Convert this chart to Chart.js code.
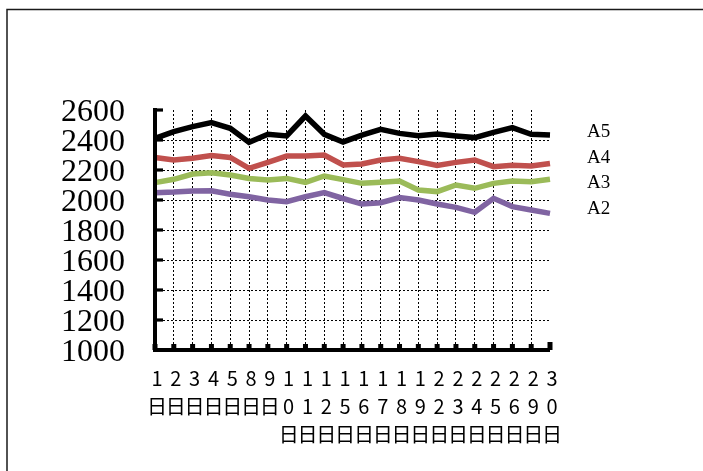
<!DOCTYPE html>
<html>
<head>
<meta charset="utf-8">
<script src="https://cdn.jsdelivr.net/npm/chart.js@4/dist/chart.umd.min.js"></script>
<style>
  html, body { margin: 0; padding: 0; background: #fff; }
  canvas { display: block; }
</style>
</head>
<body>
<canvas id="chart" width="703" height="471"></canvas>
<script>
// Trading days of the month
const days = ['1日','2日','3日','4日','5日','8日','9日','10日','11日','12日','15日','16日','17日','18日','19日','22日','23日','24日','25日','26日','29日','30日'];

// Series names
const seriesNames = ['A2', 'A3', 'A4', 'A5'];

// Daily values per series
const a2 = [2049,2053,2060,2062,2038,2022,2000,1989,2022,2049,2010,1973,1982,2016,2000,1973,1951,1918,2011,1956,1933,1911];
const a3 = [2116,2138,2173,2182,2167,2144,2133,2144,2118,2160,2136,2111,2118,2127,2067,2056,2100,2078,2111,2127,2122,2138];
const a4 = [2284,2267,2278,2296,2284,2211,2251,2293,2293,2300,2233,2240,2267,2278,2256,2231,2251,2267,2222,2231,2227,2244];
const a5 = [2411,2456,2489,2516,2478,2385,2438,2427,2560,2438,2387,2433,2471,2444,2429,2440,2427,2416,2451,2482,2438,2433];

// Value axis range and ticks
const yMin = 1000;
const yMax = 2600;
const yStep = 200;

const seriesValues = [a2, a3, a4, a5];
const seriesColors = ['#8064A2', '#9BBB59', '#C0504D', '#000000'];

// Each day label is stacked one character per line
const dayLabels = days.map(d => Array.from(d));

// Frame lines, thick axes, inside tick marks and the name column on the right
const decorations = {
  id: 'decorations',
  afterDraw(chart) {
    const { ctx, chartArea } = chart;
    const xs = chart.scales.x;
    const ys = chart.scales.y;
    ctx.save();

    // outer frame (top and left edges)
    ctx.strokeStyle = '#1a1a1a';
    ctx.lineWidth = 1.5;
    ctx.beginPath();
    ctx.moveTo(7, 471);
    ctx.lineTo(7, 9.5);
    ctx.lineTo(703, 9.5);
    ctx.stroke();

    // axes
    const left = chartArea.left;
    const bottom = chartArea.bottom;
    ctx.fillStyle = '#000';
    ctx.fillRect(left - 2, chartArea.top - 2, 4, bottom - chartArea.top + 4);
    ctx.fillRect(left - 2, bottom - 2, chartArea.right - left + 2, 4);

    // value-axis ticks pointing into the plot
    ys.ticks.forEach(t => {
      const y = ys.getPixelForValue(t.value);
      ctx.fillRect(left, y - 1.6, 8, 3.2);
    });

    // category ticks sitting on the axis
    xs.ticks.forEach((t, i) => {
      const x = xs.getPixelForTick(i);
      const last = i === xs.ticks.length - 1;
      const h = last ? 8 : 6;
      ctx.fillRect(x - 2.5, bottom - h, 5, h);
    });

    // series names, top line first
    ctx.fillStyle = '#000';
    ctx.font = '19px "Liberation Serif", "Times New Roman", serif';
    ctx.textAlign = 'left';
    ctx.textBaseline = 'middle';
    const names = seriesNames.slice().reverse();
    names.forEach((n, i) => {
      ctx.fillText(n, 587, 132 + i * 25.7);
    });

    ctx.restore();
  }
};

new Chart(document.getElementById('chart'), {
  type: 'line',
  data: {
    labels: dayLabels,
    datasets: seriesNames.map((name, i) => ({
      label: name,
      data: seriesValues[i],
      borderColor: seriesColors[i],
      backgroundColor: seriesColors[i],
      borderWidth: 5.5,
      pointRadius: 0,
      pointHoverRadius: 0,
      tension: 0,
      fill: false
    }))
  },
  options: {
    responsive: false,
    animation: false,
    devicePixelRatio: 1,
    layout: { padding: { left: 10, top: 110, right: 153, bottom: 0 } },
    plugins: {
      legend: { display: false },
      tooltip: { enabled: false }
    },
    scales: {
      x: {
        type: 'category',
        offset: false,
        afterFit(scale) { scale.height = 121; },
        grid: {
          drawTicks: false,
          lineWidth: 1,
          color: ctx => (ctx.index === 0 || ctx.index === days.length - 1) ? 'rgba(0,0,0,0)' : '#000'
        },
        border: { display: false, dash: [2, 2] },
        ticks: {
          autoSkip: false,
          maxRotation: 0,
          minRotation: 0,
          padding: 14,
          labelOffset: 2,
          color: '#000',
          font: { family: '"Noto Sans CJK JP", "Noto Sans", sans-serif', size: 20, lineHeight: 1.4 }
        }
      },
      y: {
        min: yMin,
        max: yMax,
        afterFit(scale) { scale.width = 145; },
        grid: {
          drawTicks: false,
          lineWidth: 1,
          color: ctx => (ctx.tick && (ctx.tick.value === yMin || ctx.tick.value === yMax)) ? 'rgba(0,0,0,0)' : '#000'
        },
        border: { display: false, dash: [2, 2] },
        ticks: {
          stepSize: yStep,
          autoSkip: false,
          padding: 30,
          labelOffset: 3,
          color: '#000',
          callback: v => String(v),
          font: { family: '"Liberation Serif", "Times New Roman", serif', size: 32, lineHeight: 1 }
        }
      }
    }
  },
  plugins: [decorations]
});
</script>
</body>
</html>
